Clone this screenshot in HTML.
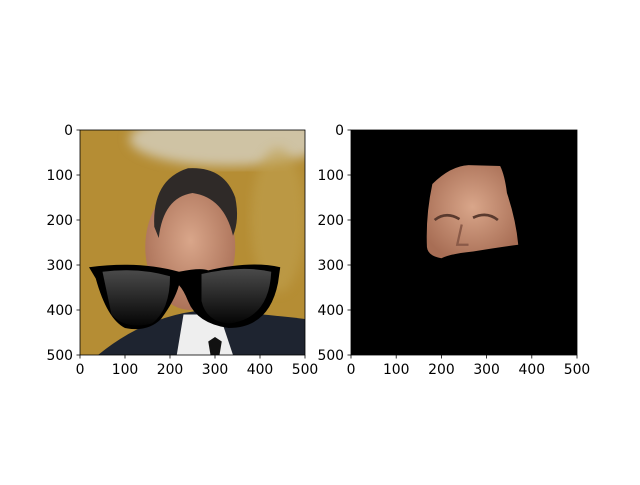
<!DOCTYPE html>
<html><head><meta charset="utf-8"><style>
body{margin:0;background:#fff;width:640px;height:480px;overflow:hidden}
svg text{font-family:"DejaVu Sans","Liberation Sans",sans-serif;font-size:13.9px;fill:#000}
</style></head><body>
<svg width="640" height="480">
<defs>
<linearGradient id="lens" x1="0" y1="0" x2="0" y2="1"><stop offset="0" stop-color="#4a4a4a"/><stop offset="1" stop-color="#050505"/></linearGradient>
<radialGradient id="skin" cx="0.5" cy="0.45" r="0.6"><stop offset="0" stop-color="#d9a68a"/><stop offset="1" stop-color="#a86e55"/></radialGradient>
<filter id="blur"><feGaussianBlur stdDeviation="12"/></filter>
</defs>
<g>
<svg x="80" y="130" width="225" height="225" viewBox="0 0 500 500" preserveAspectRatio="none">
<rect width="500" height="500" fill="#b58d34"/>
<ellipse cx="330" cy="20" rx="220" ry="60" fill="#cfc3a4" filter="url(#blur)"/>
<ellipse cx="440" cy="200" rx="60" ry="160" fill="#c0a050" filter="url(#blur)" opacity="0.6"/>
<path d="M40 500 Q150 410 280 400 Q420 410 500 420 L500 500Z" fill="#1e2430"/>
<path d="M215 500 L230 410 L310 410 L340 500Z" fill="#eeeeee"/>
<path d="M290 500 L285 470 L300 460 L315 470 L310 500Z" fill="#111"/>
<ellipse cx="245" cy="260" rx="100" ry="140" fill="url(#skin)"/>
<path d="M165 215 Q160 110 240 85 Q320 80 345 150 Q355 200 340 235 Q320 150 250 140 Q185 150 175 240Z" fill="#2f2a28"/>
<g>
<path d="M20 305 Q130 290 220 315 Q270 305 285 312 Q380 290 445 305 L440 340 Q420 440 330 440 Q260 430 240 380 Q230 355 220 345 Q210 380 180 420 Q150 450 100 440 Q60 420 35 330Z" fill="#000"/>
<path d="M50 315 Q130 305 200 325 Q200 400 160 430 Q100 445 70 410Z" fill="url(#lens)"/>
<path d="M270 320 Q360 300 425 315 Q420 420 330 430 Q280 425 270 380Z" fill="url(#lens)"/>
</g>
</svg>
<rect x="80" y="130" width="225" height="225" fill="none" stroke="#000" stroke-width="0.8"/>
</g>
<g>
<svg x="351" y="130" width="226" height="225" viewBox="0 0 500 500" preserveAspectRatio="none">
<rect width="500" height="500" fill="#000"/>
<path d="M180 120 Q220 80 260 78 L330 80 Q340 100 345 140 Q365 200 370 255 Q330 260 270 270 Q220 275 200 285 Q170 280 168 260 Q165 190 180 120Z" fill="url(#skin)"/>
<path d="M185 200 Q210 180 240 198 M270 195 Q300 180 325 200" stroke="#5a3a2e" stroke-width="6" fill="none"/>
<path d="M245 210 L235 255 L260 255" stroke="#8a5a48" stroke-width="5" fill="none"/>
</svg>
<rect x="351" y="130" width="226" height="225" fill="none" stroke="#000" stroke-width="0.8"/>
</g>
<g id="axes"></g>
</svg>
<script>
const tickValues=[0,100,200,300,400,500];
const panels=[{x:80,w:225},{x:351,w:226}];
const g=document.getElementById('axes');
const ns='http://www.w3.org/2000/svg';
panels.forEach((p,pi)=>{
 tickValues.forEach(v=>{
  const xx=p.x+v/500*p.w, yy=130+v/500*225;
  let l=document.createElementNS(ns,'line');
  
  
  l.setAttribute('x1',xx);l.setAttribute('x2',xx);l.setAttribute('y1',355);l.setAttribute('y2',358.5);l.setAttribute('stroke','#000');l.setAttribute('stroke-width','0.8');g.appendChild(l);
  let t=document.createElementNS(ns,'text');
  
  
  t.setAttribute('x',xx);t.setAttribute('y',374);t.setAttribute('text-anchor','middle');t.textContent=v;g.appendChild(t);
  let l2=document.createElementNS(ns,'line');
  
  
  l2.setAttribute('x1',p.x-3.5);l2.setAttribute('x2',p.x);l2.setAttribute('y1',yy);l2.setAttribute('y2',yy);l2.setAttribute('stroke','#000');l2.setAttribute('stroke-width','0.8');g.appendChild(l2);
  let t2=document.createElementNS(ns,'text');
  
  
  t2.setAttribute('x',p.x-7);t2.setAttribute('y',yy+5);t2.setAttribute('text-anchor','end');t2.textContent=v;g.appendChild(t2);
 });
});
</script>
</body></html>
